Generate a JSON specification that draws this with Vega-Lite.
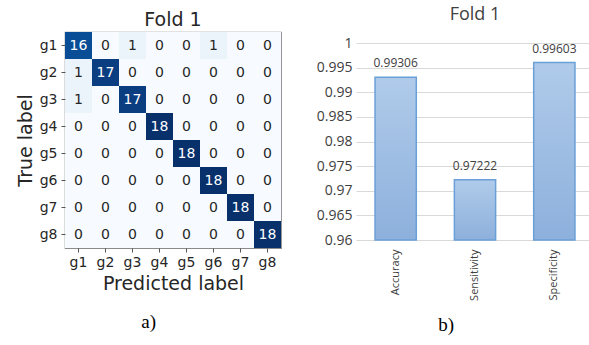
{
  "$schema": "https://vega.github.io/schema/vega-lite/v6.json",
  "padding": {"left": 15, "top": 6, "right": 0, "bottom": 0},
  "background": "white",
  "config": {"view": {"stroke": null}, "concat": {"spacing": 34}},
  "datasets": {
    "cm": [
      {"t":"g1","p":"g1","n":16},{"t":"g1","p":"g2","n":0},{"t":"g1","p":"g3","n":1},{"t":"g1","p":"g4","n":0},{"t":"g1","p":"g5","n":0},{"t":"g1","p":"g6","n":1},{"t":"g1","p":"g7","n":0},{"t":"g1","p":"g8","n":0},
      {"t":"g2","p":"g1","n":1},{"t":"g2","p":"g2","n":17},{"t":"g2","p":"g3","n":0},{"t":"g2","p":"g4","n":0},{"t":"g2","p":"g5","n":0},{"t":"g2","p":"g6","n":0},{"t":"g2","p":"g7","n":0},{"t":"g2","p":"g8","n":0},
      {"t":"g3","p":"g1","n":1},{"t":"g3","p":"g2","n":0},{"t":"g3","p":"g3","n":17},{"t":"g3","p":"g4","n":0},{"t":"g3","p":"g5","n":0},{"t":"g3","p":"g6","n":0},{"t":"g3","p":"g7","n":0},{"t":"g3","p":"g8","n":0},
      {"t":"g4","p":"g1","n":0},{"t":"g4","p":"g2","n":0},{"t":"g4","p":"g3","n":0},{"t":"g4","p":"g4","n":18},{"t":"g4","p":"g5","n":0},{"t":"g4","p":"g6","n":0},{"t":"g4","p":"g7","n":0},{"t":"g4","p":"g8","n":0},
      {"t":"g5","p":"g1","n":0},{"t":"g5","p":"g2","n":0},{"t":"g5","p":"g3","n":0},{"t":"g5","p":"g4","n":0},{"t":"g5","p":"g5","n":18},{"t":"g5","p":"g6","n":0},{"t":"g5","p":"g7","n":0},{"t":"g5","p":"g8","n":0},
      {"t":"g6","p":"g1","n":0},{"t":"g6","p":"g2","n":0},{"t":"g6","p":"g3","n":0},{"t":"g6","p":"g4","n":0},{"t":"g6","p":"g5","n":0},{"t":"g6","p":"g6","n":18},{"t":"g6","p":"g7","n":0},{"t":"g6","p":"g8","n":0},
      {"t":"g7","p":"g1","n":0},{"t":"g7","p":"g2","n":0},{"t":"g7","p":"g3","n":0},{"t":"g7","p":"g4","n":0},{"t":"g7","p":"g5","n":0},{"t":"g7","p":"g6","n":0},{"t":"g7","p":"g7","n":18},{"t":"g7","p":"g8","n":0},
      {"t":"g8","p":"g1","n":0},{"t":"g8","p":"g2","n":0},{"t":"g8","p":"g3","n":0},{"t":"g8","p":"g4","n":0},{"t":"g8","p":"g5","n":0},{"t":"g8","p":"g6","n":0},{"t":"g8","p":"g7","n":0},{"t":"g8","p":"g8","n":18}
    ],
    "metrics": [
      {"metric":"Accuracy","value":0.99306},
      {"metric":"Sensitivity","value":0.97222},
      {"metric":"Specificity","value":0.99603}
    ]
  },
  "hconcat": [
    {
      "title": {"text": "a)", "orient": "bottom", "anchor": "middle", "font": "Liberation Serif", "fontSize": 19, "fontWeight": "normal", "color": "#000000", "offset": 19},
      "vconcat": [
        {
          "width": 216,
          "height": 216,
          "view": {"stroke": "#8a8a8a", "strokeWidth": 1.2},
          "title": {"text": "Fold 1", "font": "DejaVu Sans", "fontSize": 19, "fontWeight": "normal", "color": "#262626", "offset": 2},
          "data": {"name": "cm"},
          "encoding": {
            "x": {"field": "p", "type": "ordinal", "title": "Predicted label", "scale": {"paddingInner": 0, "paddingOuter": 0},
              "axis": {"labelAngle": 0, "labelFont": "DejaVu Sans", "labelFontSize": 14, "labelColor": "#262626", "titleFont": "DejaVu Sans", "titleFontSize": 19, "titleFontWeight": "normal", "titleColor": "#262626", "domain": false, "tickColor": "#555", "tickSize": 4, "labelPadding": 3, "titlePadding": 5}},
            "y": {"field": "t", "type": "ordinal", "title": "True label", "scale": {"paddingInner": 0, "paddingOuter": 0},
              "axis": {"labelFont": "DejaVu Sans", "labelFontSize": 14, "labelColor": "#262626", "titleFont": "DejaVu Sans", "titleFontSize": 19, "titleFontWeight": "normal", "titleColor": "#262626", "domain": false, "tickColor": "#555", "tickSize": 4, "labelPadding": 4, "titlePadding": 4}}
          },
          "layer": [
            {"mark": {"type": "rect"},
             "encoding": {"color": {"field": "n", "type": "quantitative", "legend": null,
               "scale": {"domain": [0, 2.25, 4.5, 6.75, 9, 11.25, 13.5, 15.75, 18], "range": ["#f7fbff", "#deebf7", "#c6dbef", "#9ecae1", "#6baed6", "#4292c6", "#2171b5", "#08519c", "#08306b"]}}}},
            {"mark": {"type": "text", "font": "DejaVu Sans", "fontSize": 14},
             "encoding": {"text": {"field": "n", "type": "quantitative"},
               "color": {"condition": {"test": "datum.n > 9", "value": "#ffffff"}, "value": "#262626"}}}
          ]
        }
      ]
    },
    {
      "title": {"text": "b)", "orient": "bottom", "anchor": "middle", "dx": -9, "font": "Liberation Serif", "fontSize": 19, "fontWeight": "normal", "color": "#000000", "offset": 16},
      "vconcat": [
        {
          "width": 238,
          "height": 208,
          "title": {"text": "Fold 1", "font": "Open Sans", "fontSize": 18, "fontWeight": "normal", "color": "#404040", "offset": 8},
          "data": {"name": "metrics"},
          "encoding": {
            "x": {"field": "metric", "type": "nominal", "title": null, "sort": null, "scale": {"paddingInner": 0.48, "paddingOuter": 0.24},
              "axis": {"labelAngle": -90, "labelFont": "Open Sans", "labelFontSize": 11, "labelColor": "#404040", "domain": false, "ticks": false, "labelPadding": 9}},
            "y": {"field": "value", "type": "quantitative", "title": null, "scale": {"domain": [0.96, 1.002234], "zero": false, "nice": false},
              "axis": {"values": [0.96, 0.965, 0.97, 0.975, 0.98, 0.985, 0.99, 0.995, 1], "format": "~g", "labelFont": "Open Sans", "labelFontSize": 14, "labelColor": "#404040", "domain": false, "ticks": false, "labelPadding": 4, "gridColor": "#d9d9d9", "gridWidth": 1}}
          },
          "layer": [
            {"mark": {"type": "bar", "stroke": "#6a9fd8", "strokeWidth": 1.5,
              "color": {"gradient": "linear", "x1": 0, "y1": 0, "x2": 0, "y2": 1, "stops": [{"offset": 0, "color": "#b0cbea"}, {"offset": 1, "color": "#8db0dc"}]}},
             "encoding": {"y2": {"datum": 0.96}}},
            {"mark": {"type": "text", "baseline": "bottom", "dy": -7, "font": "Open Sans", "fontSize": 12, "color": "#404040"},
             "encoding": {"text": {"field": "value", "type": "quantitative", "format": ".5f"}}}
          ]
        }
      ]
    }
  ]
}
